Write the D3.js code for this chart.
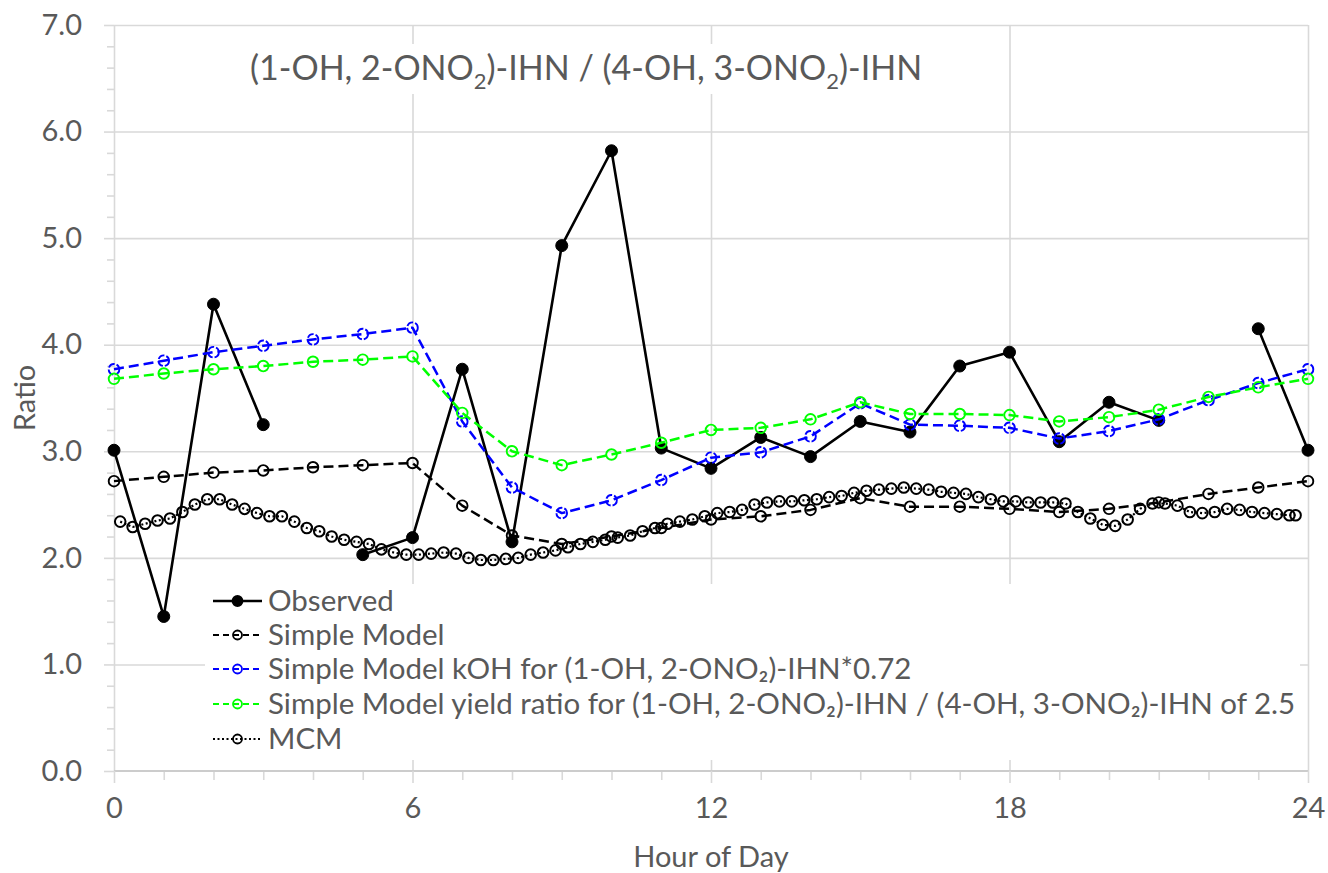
<!DOCTYPE html>
<html>
<head>
<meta charset="utf-8">
<script src="https://cdn.jsdelivr.net/npm/d3@7"></script>
<style>
  html, body { margin: 0; padding: 0; background: #fff; }
  svg { display: block; font-family: Lato, "Open Sans", sans-serif; }
</style>
</head>
<body>
<svg id="chart" width="1328" height="873"></svg>
<script>
// ---------------- DATA ----------------
const hours = [0,1,2,3,4,5,6,7,8,9,10,11,12,13,14,15,16,17,18,19,20,21,22,23,24];
const observed = [3.01,1.45,4.38,3.25,null,2.03,2.19,3.77,2.15,4.93,5.82,3.03,2.84,3.13,2.95,3.28,3.18,3.80,3.93,3.09,3.46,3.29,null,4.15,3.01];
const simpleModel = [2.72,2.76,2.80,2.82,2.85,2.87,2.89,2.49,2.21,2.13,2.20,2.28,2.36,2.39,2.45,2.56,2.48,2.48,2.46,2.43,2.46,2.52,2.60,2.66,2.72];
const simpleKOH = [3.77,3.85,3.93,3.99,4.05,4.10,4.16,3.28,2.66,2.42,2.54,2.73,2.94,2.99,3.14,3.45,3.25,3.24,3.22,3.12,3.19,3.30,3.48,3.64,3.77];
const simpleYield = [3.68,3.73,3.77,3.80,3.84,3.86,3.89,3.36,3.00,2.87,2.97,3.08,3.20,3.22,3.30,3.46,3.35,3.35,3.34,3.28,3.32,3.39,3.51,3.60,3.68];
const mcmHours = [0.125,0.375,0.625,0.875,1.125,1.375,1.625,1.875,2.125,2.375,2.625,2.875,3.125,3.375,3.625,3.875,
  4.125,4.375,4.625,4.875,5.125,5.375,5.625,5.875,6.125,6.375,6.625,6.875,7.125,7.375,7.625,7.875,
  8.125,8.375,8.625,8.875,9.125,9.375,9.625,9.875,10.125,10.375,10.625,10.875,11.125,11.375,11.625,11.875,
  12.125,12.375,12.625,12.875,13.125,13.375,13.625,13.875,14.125,14.375,14.625,14.875,15.125,15.375,15.625,15.875,
  16.125,16.375,16.625,16.875,17.125,17.375,17.625,17.875,18.125,18.375,18.625,18.875,19.125,19.375,19.625,19.875,
  20.125,20.375,20.625,20.875,21.125,21.375,21.625,21.875,22.125,22.375,22.625,22.875,23.125,23.375,23.625,23.75];
const mcm = [2.34,2.29,2.32,2.35,2.37,2.43,2.50,2.55,2.55,2.50,2.46,2.42,2.39,2.39,2.34,2.28,
  2.25,2.20,2.17,2.15,2.13,2.08,2.05,2.03,2.03,2.04,2.05,2.04,2.00,1.98,1.98,1.99,
  2.00,2.03,2.05,2.07,2.10,2.13,2.15,2.17,2.19,2.21,2.25,2.28,2.32,2.34,2.36,2.39,
  2.42,2.43,2.45,2.50,2.52,2.53,2.53,2.54,2.55,2.57,2.58,2.61,2.63,2.64,2.65,2.66,
  2.65,2.64,2.62,2.61,2.60,2.57,2.55,2.53,2.53,2.52,2.52,2.52,2.51,2.43,2.37,2.31,
  2.30,2.36,2.46,2.51,2.51,2.49,2.43,2.42,2.43,2.46,2.45,2.43,2.42,2.41,2.40,2.40];
const xTickValues = [0,6,12,18,24];
const yTickValues = [0,1,2,3,4,5,6,7];
const seriesNames = ["Observed","Simple Model","Simple Model kOH for (1-OH, 2-ONO\u2082)-IHN*0.72",
  "Simple Model yield ratio for (1-OH, 2-ONO\u2082)-IHN / (4-OH, 3-ONO\u2082)-IHN of 2.5","MCM"];
const seriesColors = ["#000000","#000000","#0000ff","#00ff00","#000000"];
const xTitle = "Hour of Day";
const yTitle = "Ratio";

// ---------------- LAYOUT ----------------
const L = 114, R = 1308, T = 25, B = 771;
const textColor = "#595959", gridColor = "#d9d9d9";
const svg = d3.select("#chart");
const x = d3.scaleLinear().domain([0,24]).range([L,R]);
const y = d3.scaleLinear().domain([0,7]).range([B,T]);

// gridlines
const gridY = svg.append("g").attr("transform",`translate(${L},0)`)
  .call(d3.axisLeft(y).tickValues(yTickValues.slice(1)).tickSize(-(R-L)).tickFormat(""));
gridY.select(".domain").remove();
gridY.selectAll("line").attr("stroke",gridColor).attr("stroke-width",1.6);
const gridX = svg.append("g").attr("transform",`translate(0,${B})`)
  .call(d3.axisBottom(x).tickValues(xTickValues).tickSize(-(B-T)).tickFormat(""));
gridX.select(".domain").remove();
gridX.selectAll("line").attr("stroke",gridColor).attr("stroke-width",1.6);

// minor ticks
const minorY = svg.append("g").attr("transform",`translate(${L},0)`)
  .call(d3.axisLeft(y).tickValues(d3.range(0,35).map(i=>i*0.2).filter(v=>Math.abs(v-Math.round(v))>0.01)).tickSize(7).tickFormat(""));
minorY.select(".domain").remove();
minorY.selectAll("line").attr("stroke",gridColor).attr("stroke-width",1.6);
const minorX = svg.append("g").attr("transform",`translate(0,${B})`)
  .call(d3.axisBottom(x).tickValues(hours.filter(h=>h%6!==0)).tickSize(9).tickFormat(""));
minorX.select(".domain").remove();
minorX.selectAll("line").attr("stroke",gridColor).attr("stroke-width",1.6);

// major axes with labels
const yAxis = svg.append("g").attr("transform",`translate(${L},0)`)
  .call(d3.axisLeft(y).tickValues(yTickValues).tickSize(10).tickPadding(22).tickFormat(d3.format(".1f")));
yAxis.select(".domain").remove();
yAxis.selectAll("line").attr("stroke",gridColor).attr("stroke-width",1.6);
yAxis.selectAll("text").attr("fill",textColor).style("font-size","29px").style("font-family","Lato");
const xAxis = svg.append("g").attr("transform",`translate(0,${B})`)
  .call(d3.axisBottom(x).tickValues(xTickValues).tickSize(12).tickPadding(14));
xAxis.select(".domain").attr("stroke","#cccccc").attr("stroke-width",2.2).attr("d",`M${L},0H${R}`);
xAxis.selectAll("line").attr("stroke",gridColor).attr("stroke-width",1.6);
xAxis.selectAll("text").attr("fill",textColor).style("font-size","29px").style("font-family","Lato");

// axis titles
svg.append("text").attr("x",(L+R)/2).attr("y",867).attr("text-anchor","middle")
  .attr("fill",textColor).style("font-size","29px").text(xTitle);
svg.append("text").attr("transform",`translate(35,${(T+B)/2}) rotate(-90)`).attr("text-anchor","middle")
  .attr("fill",textColor).style("font-size","29px").text(yTitle);

// chart title with white box
svg.append("rect").attr("x",236).attr("y",44).attr("width",704).attr("height",50).attr("fill","#fff");
const title = svg.append("text").attr("x",250).attr("y",80).attr("fill",textColor).style("font-size","34px");
const titleParts = [["(1-OH, 2-ONO",false],["2",true],[")-IHN / (4-OH, 3-ONO",false],["2",true],[")-IHN",false]];
titleParts.forEach(([t,sub])=>{
  title.append("tspan").text(t).style("font-size", sub ? "22px" : "34px")
    .attr("dy", sub ? 9 : (t.startsWith(")") ? -9 : 0));
});

// ---------------- SERIES ----------------
const line = d3.line().defined(d=>d[1]!==null).x(d=>x(d[0])).y(d=>y(d[1]));
const seriesG = svg.append("g");

function drawSeries(xs, ys, color, dash, lw, marker, markerDash){
  const pts = xs.map((h,i)=>[h,ys[i]]);
  seriesG.append("path").datum(pts).attr("d",line).attr("fill","none")
    .attr("stroke",color).attr("stroke-width",lw).attr("stroke-dasharray",dash)
    .attr("stroke-linejoin","round");
  seriesG.append("g").selectAll("circle").data(pts.filter(d=>d[1]!==null)).join("circle")
    .attr("cx",d=>x(d[0])).attr("cy",d=>y(d[1])).attr("r",marker.r)
    .attr("fill",marker.fill).attr("stroke",color).attr("stroke-width",marker.sw)
    .attr("stroke-dasharray",markerDash);
}
drawSeries(hours, observed, seriesColors[0], null, 2.6, {r:6, fill:"#000", sw:1}, null);
drawSeries(hours, simpleModel, seriesColors[1], "10,5", 2.5, {r:5.3, fill:"none", sw:1.9}, null);
drawSeries(hours, simpleKOH, seriesColors[2], "10,5", 2.5, {r:5.3, fill:"none", sw:1.9}, "7,2");
drawSeries(hours, simpleYield, seriesColors[3], "10,5", 2.5, {r:5.3, fill:"none", sw:1.9}, null);
drawSeries(mcmHours, mcm, seriesColors[4], "2,2.5", 2.2, {r:5.3, fill:"none", sw:2}, null);

// ---------------- LEGEND ----------------
svg.append("rect").attr("x",205).attr("y",584).attr("width",1095).attr("height",176).attr("fill","#fff");
const legY = [601,635,669,704,739];
const legStyles = [
  {dash:null, lw:2.6, r:5, fill:"#000"},
  {dash:"6,4", lw:2.2, r:4.5, fill:"none"},
  {dash:"6,4", lw:2.2, r:4.5, fill:"none"},
  {dash:"6,4", lw:2.2, r:4.5, fill:"none"},
  {dash:"2,2.5", lw:2, r:4.5, fill:"none"}
];
seriesNames.forEach((name,i)=>{
  const g = svg.append("g");
  const st = legStyles[i];
  g.append("line").attr("x1",213).attr("x2",262).attr("y1",legY[i]).attr("y2",legY[i])
    .attr("stroke",seriesColors[i]).attr("stroke-width",st.lw).attr("stroke-dasharray",st.dash);
  g.append("circle").attr("cx",237.5).attr("cy",legY[i]).attr("r",st.r)
    .attr("fill",st.fill).attr("stroke",seriesColors[i]).attr("stroke-width",1.8);
  g.append("text").attr("x",268).attr("y",legY[i]+10).attr("fill",textColor)
    .style("font-size","29.5px").text(name);
});
</script>
</body>
</html>
